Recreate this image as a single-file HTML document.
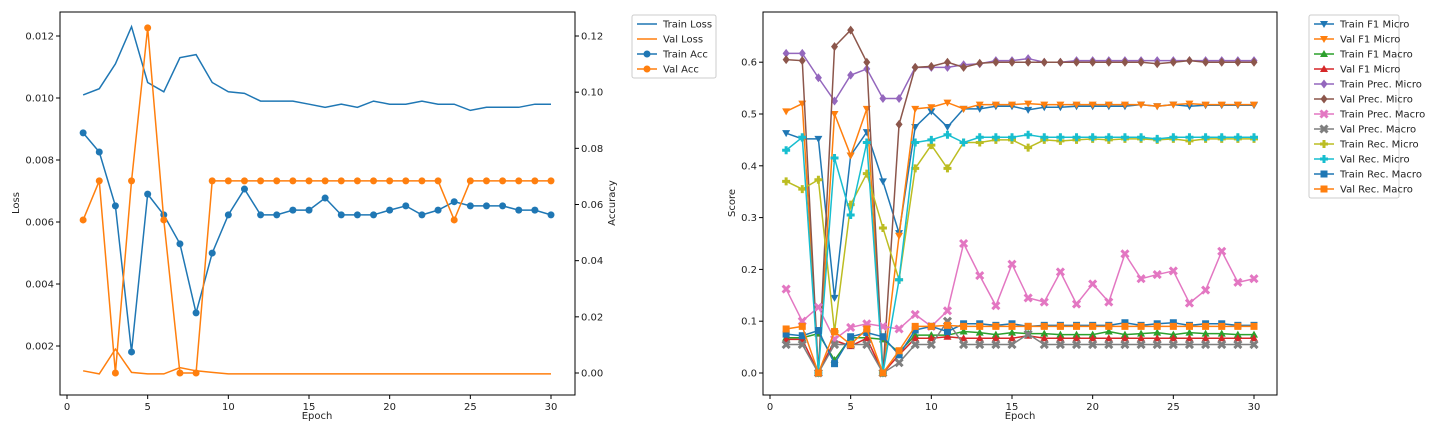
<!DOCTYPE html>
<html><head><meta charset="utf-8"><style>
body{margin:0;background:#fff;}
svg{display:block;font-family:"DejaVu Sans","Liberation Sans",sans-serif;}
text{font-size:10px;fill:#222;}
</style></head><body>
<svg id="c" width="1440" height="432"></svg>
<script>
const epochs=[...Array(30)].map((_,i)=>i+1);
const trainLoss=[0.0101,0.0103,0.0111,0.0123,0.0105,0.0102,0.0113,0.0114,0.0105,0.0102,0.01015,0.0099,0.0099,0.0099,0.0098,0.0097,0.0098,0.0097,0.0099,0.0098,0.0098,0.0099,0.0098,0.0098,0.0096,0.0097,0.0097,0.0097,0.0098,0.0098];
const valLoss=[0.0012,0.0011,0.0019,0.00115,0.0011,0.0011,0.0013,0.0012,0.00115,0.0011,0.0011,0.0011,0.0011,0.0011,0.0011,0.0011,0.0011,0.0011,0.0011,0.0011,0.0011,0.0011,0.0011,0.0011,0.0011,0.0011,0.0011,0.0011,0.0011,0.0011];
const trainAcc=[0.0855,0.0787,0.0595,0.0075,0.0637,0.0563,0.046,0.0214,0.0427,0.0563,0.0655,0.0563,0.0563,0.058,0.058,0.0623,0.0563,0.0563,0.0563,0.058,0.0595,0.0563,0.058,0.061,0.0595,0.0595,0.0595,0.058,0.058,0.0563];
const valAcc=[0.0545,0.0684,0,0.0684,0.1229,0.0545,0,0,0.0684,0.0684,0.0684,0.0684,0.0684,0.0684,0.0684,0.0684,0.0684,0.0684,0.0684,0.0684,0.0684,0.0684,0.0684,0.0545,0.0684,0.0684,0.0684,0.0684,0.0684,0.0684];
const lossTicks=[0.002,0.004,0.006,0.008,0.010,0.012];
const accTicks=[0,0.02,0.04,0.06,0.08,0.10,0.12];
const epochTicks=[0,5,10,15,20,25,30];
const scoreTicks=[0,0.1,0.2,0.3,0.4,0.5,0.6];
const sNames=["Train F1 Micro","Val F1 Micro","Train F1 Macro","Val F1 Micro","Train Prec. Micro","Val Prec. Micro","Train Prec. Macro","Val Prec. Macro","Train Rec. Micro","Val Rec. Micro","Train Rec. Macro","Val Rec. Macro"];
const sColors=["#1f77b4","#ff7f0e","#2ca02c","#d62728","#9467bd","#8c564b","#e377c2","#7f7f7f","#bcbd22","#17becf","#1f77b4","#ff7f0e"];
const sMarkers=["v","v","^","^","D","D","X","X","P","P","s","s"];
const s0=[0.463,0.452,0.452,0.145,0.42,0.465,0.37,0.27,0.475,0.505,0.475,0.51,0.51,0.515,0.515,0.508,0.513,0.513,0.515,0.515,0.515,0.515,0.518,0.515,0.518,0.515,0.517,0.517,0.517,0.517];
const s1=[0.505,0.52,0,0.50,0.42,0.51,0,0.265,0.51,0.513,0.522,0.51,0.518,0.518,0.518,0.52,0.518,0.518,0.518,0.518,0.518,0.518,0.518,0.515,0.518,0.52,0.518,0.518,0.518,0.518];
const s2=[0.068,0.068,0.076,0.025,0.068,0.068,0.065,0.04,0.073,0.073,0.073,0.08,0.078,0.074,0.078,0.076,0.076,0.074,0.074,0.074,0.08,0.074,0.076,0.078,0.074,0.078,0.076,0.076,0.074,0.074];
const s3=[0.065,0.065,0,0.063,0.052,0.067,0,0.035,0.067,0.067,0.07,0.067,0.067,0.067,0.067,0.072,0.067,0.067,0.067,0.067,0.067,0.067,0.067,0.067,0.067,0.067,0.067,0.067,0.067,0.067];
const s4=[0.617,0.617,0.57,0.525,0.575,0.587,0.53,0.53,0.59,0.59,0.59,0.595,0.597,0.603,0.603,0.607,0.6,0.6,0.603,0.603,0.603,0.603,0.603,0.603,0.603,0.603,0.603,0.603,0.603,0.603];
const s5=[0.605,0.603,0,0.63,0.662,0.6,0,0.48,0.59,0.592,0.6,0.59,0.598,0.6,0.6,0.6,0.6,0.6,0.6,0.6,0.6,0.6,0.6,0.597,0.6,0.603,0.6,0.6,0.6,0.6];
const s6=[0.162,0.10,0.127,0.065,0.088,0.095,0.09,0.085,0.113,0.09,0.12,0.25,0.188,0.13,0.21,0.145,0.137,0.195,0.133,0.172,0.137,0.23,0.182,0.19,0.197,0.135,0.16,0.235,0.175,0.182];
const s7=[0.055,0.055,0,0.055,0.055,0.055,0,0.02,0.055,0.055,0.1,0.055,0.055,0.055,0.055,0.075,0.055,0.055,0.055,0.055,0.055,0.055,0.055,0.055,0.055,0.055,0.055,0.055,0.055,0.055];
const s8=[0.37,0.355,0.373,0.08,0.325,0.385,0.28,0.18,0.395,0.44,0.395,0.445,0.445,0.45,0.45,0.435,0.45,0.448,0.45,0.452,0.45,0.452,0.452,0.45,0.452,0.448,0.452,0.452,0.452,0.452];
const s9=[0.43,0.455,0,0.415,0.305,0.445,0,0.18,0.445,0.45,0.46,0.445,0.455,0.455,0.455,0.46,0.455,0.455,0.455,0.455,0.455,0.455,0.455,0.452,0.455,0.455,0.455,0.455,0.455,0.455];
const s10=[0.075,0.072,0.082,0.018,0.07,0.078,0.07,0.035,0.083,0.09,0.08,0.095,0.095,0.092,0.095,0.09,0.092,0.092,0.092,0.092,0.092,0.097,0.092,0.095,0.097,0.092,0.095,0.095,0.092,0.092];
const s11=[0.085,0.09,0,0.08,0.055,0.085,0,0.043,0.09,0.09,0.092,0.09,0.09,0.09,0.09,0.09,0.09,0.09,0.09,0.09,0.09,0.09,0.09,0.09,0.09,0.09,0.09,0.09,0.09,0.09];
const sData=[s0,s1,s2,s3,s4,s5,s6,s7,s8,s9,s10,s11];

const NS="http://www.w3.org/2000/svg";
const svg=document.getElementById('c');
function el(t,a,p){const e=document.createElementNS(NS,t);for(const k in a)e.setAttribute(k,a[k]);(p||svg).appendChild(e);return e;}
function txt(x,y,s,anchor,p,rot){const t=el('text',{x:x,y:y,'text-anchor':anchor||'middle'},p);if(rot)t.setAttribute('transform',`rotate(-90 ${x} ${y})`);t.textContent=s;return t;}
function marker(g,m,x,y,c){
  let e;
  if(m==='o')e=el('circle',{cx:x,cy:y,r:3.5,fill:c},g);
  else if(m==='s')e=el('rect',{x:x-3.5,y:y-3.5,width:7,height:7,fill:c},g);
  else if(m==='v')e=el('path',{d:`M${x-4},${y-3}L${x+4},${y-3}L${x},${y+4}Z`,fill:c},g);
  else if(m==='^')e=el('path',{d:`M${x-4},${y+3}L${x+4},${y+3}L${x},${y-4}Z`,fill:c},g);
  else if(m==='D')e=el('path',{d:`M${x},${y-4.5}L${x+3.5},${y}L${x},${y+4.5}L${x-3.5},${y}Z`,fill:c},g);
  else if(m==='X')e=el('path',{d:`M${x-3.5},${y-3.5}L${x+3.5},${y+3.5}M${x+3.5},${y-3.5}L${x-3.5},${y+3.5}`,stroke:c,'stroke-width':3},g);
  else if(m==='P')e=el('path',{d:`M${x-4},${y}L${x+4},${y}M${x},${y-4}L${x},${y+4}`,stroke:c,'stroke-width':3},g);
  
  
}
function line(g,xs,ys,xf,yf,c,m,name){
  const lg=el('g',{},g);
  
  
  el('polyline',{points:xs.map((x,i)=>xf(x)+','+yf(ys[i])).join(' '),fill:'none',stroke:c,'stroke-width':1.5},lg);
  if(m)xs.forEach((x,i)=>marker(lg,m,xf(x),yf(ys[i]),c));
}
// ---- Left chart ----
const L={x0:60,x1:575,y0:12,y1:395};
const lx=e=>67+e*(551-67)/30;
const ly=v=>346-(v-0.002)/0.002*62;
const ay=v=>373-v*(373-36)/0.12;
const gl=el('g',{});


line(gl,epochs,trainLoss,lx,ly,'#1f77b4',null,'train-loss-line');
line(gl,epochs,valLoss,lx,ly,'#ff7f0e',null,'val-loss-line');
line(gl,epochs,trainAcc,lx,ay,'#1f77b4','o','train-acc-line');
line(gl,epochs,valAcc,lx,ay,'#ff7f0e','o','val-acc-line');
el('rect',{x:L.x0,y:L.y0,width:L.x1-L.x0,height:L.y1-L.y0,fill:'none',stroke:'#000','stroke-width':1},gl);
epochTicks.forEach(t=>{el('line',{x1:lx(t),x2:lx(t),y1:L.y1,y2:L.y1+4,stroke:'#000'},gl);txt(lx(t),L.y1+15,String(t),'middle',gl);});
lossTicks.forEach(t=>{el('line',{x1:L.x0-4,x2:L.x0,y1:ly(t),y2:ly(t),stroke:'#000'},gl);txt(L.x0-6,ly(t)+3.5,t.toFixed(3),'end',gl);});
accTicks.forEach(t=>{el('line',{x1:L.x1,x2:L.x1+4,y1:ay(t),y2:ay(t),stroke:'#000'},gl);txt(L.x1+6,ay(t)+3.5,t.toFixed(2),'start',gl);});
txt(317,419,'Epoch','middle',gl);
txt(19,203,'Loss','middle',gl,true);
txt(615,203,'Accuracy','middle',gl,true);
// legend
const lg1=el('g',{},gl);


el('rect',{x:632,y:15,width:84,height:63,rx:2,fill:'#fff',stroke:'#ccc'},lg1);
[['Train Loss','#1f77b4',null],['Val Loss','#ff7f0e',null],['Train Acc','#1f77b4','o'],['Val Acc','#ff7f0e','o']].forEach((d,i)=>{
  const y=24+i*15;
  el('line',{x1:637,x2:657,y1:y,y2:y,stroke:d[1],'stroke-width':1.5},lg1);
  if(d[2])marker(lg1,d[2],647,y,d[1]);
  const t=txt(663,y+3.5,d[0],'start',lg1);
  
});
// ---- Right chart ----
const R={x0:763,x1:1277,y0:12,y1:395};
const rx=e=>770+e*(1254-770)/30;
const ry=v=>373-v*518;
const gr=el('g',{});


sData.forEach((d,i)=>line(gr,epochs,d,rx,ry,sColors[i],sMarkers[i],'series-'+i));
el('rect',{x:R.x0,y:R.y0,width:R.x1-R.x0,height:R.y1-R.y0,fill:'none',stroke:'#000'},gr);
epochTicks.forEach(t=>{el('line',{x1:rx(t),x2:rx(t),y1:R.y1,y2:R.y1+4,stroke:'#000'},gr);txt(rx(t),R.y1+15,String(t),'middle',gr);});
scoreTicks.forEach(t=>{el('line',{x1:R.x0-4,x2:R.x0,y1:ry(t),y2:ry(t),stroke:'#000'},gr);txt(R.x0-6,ry(t)+3.5,t.toFixed(1),'end',gr);});
txt(1020,419,'Epoch','middle',gr);
txt(735,203,'Score','middle',gr,true);
const lg2=el('g',{},gr);


el('rect',{x:1309,y:15,width:90,height:183,rx:2,fill:'#fff',stroke:'#ccc'},lg2);
sNames.forEach((n,i)=>{
  const y=24+i*15;
  el('line',{x1:1314,x2:1334,y1:y,y2:y,stroke:sColors[i],'stroke-width':1.5},lg2);
  marker(lg2,sMarkers[i],1324,y,sColors[i]);
  const t=txt(1340,y+3.5,n,'start',lg2);
  
});
</script>
</body></html>
